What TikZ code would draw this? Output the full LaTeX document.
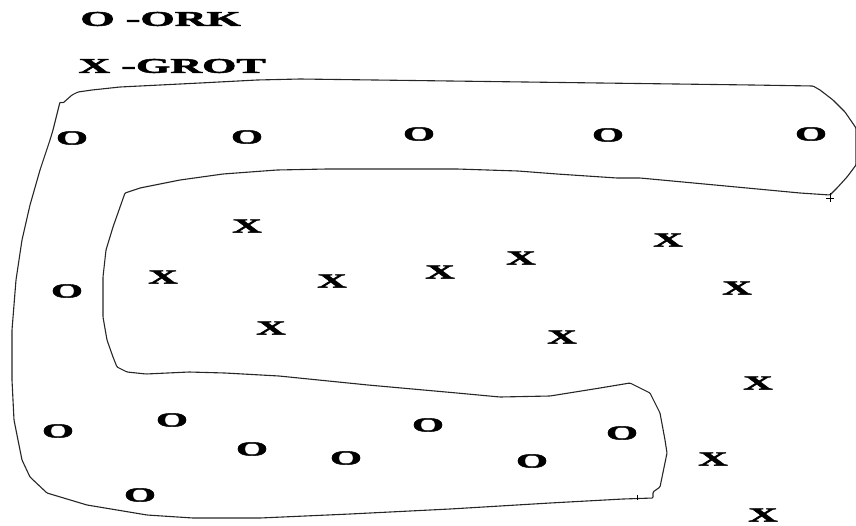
\documentclass[tikz,border=0pt]{standalone}
\usepackage{fontspec}
\setmainfont{Liberation Serif}
\newfontfamily\heavyfont[BoldFeatures={FakeBold=2}]{Liberation Serif}
\begin{document}
\begin{tikzpicture}[x=1pt,y=-1pt,
  letter/.style={font=\heavyfont\fontsize{20}{20}\selectfont\bfseries, inner sep=0pt, xscale=2.05},
  legend/.style={font=\heavyfont\fontsize{21}{21}\selectfont\bfseries, inner sep=0pt, anchor=west, xscale=2.1},
  outline/.style={line width=1.1pt, draw=black!85, line join=round, rounded corners=1pt}]
\useasboundingbox (0,0) rectangle (856,525);

% legend
\node[legend] (lo) at (80,19) {O -ORK};
\node[legend] (lx) at (78,66) {X -GROT};

% outline
\draw[outline] (53,130) -- (58,110) -- (60,102) -- (63,103) -- (72,95) -- (78,92) -- (92,90) -- (120,87)
  -- (200,83) -- (257,80) -- (300,79) -- (450,81) -- (600,83) -- (752,85) -- (813,86) -- (820,90)
  -- (833,100) -- (845,112) -- (856,128) -- (856,165) -- (847,177) -- (837,188) -- (830,195)
  -- (800,193) -- (747,188) -- (683,182) -- (640,178) -- (617,178) -- (557,174) -- (518,171)
  -- (457,169) -- (327,169) -- (277,170) -- (223,174) -- (180,180) -- (140,188) -- (125,193)
  -- (113,227) -- (106,250) -- (103,277) -- (103,317) -- (107,340) -- (113,357) -- (117,367)
  -- (127,372) -- (146,374) -- (189,372) -- (225,373) -- (279,376) -- (368,385) -- (457,393)
  -- (500,397) -- (550,396) -- (600,388) -- (630,383) -- (650,393) -- (660,413) -- (665,440)
  -- (667,453) -- (660,487) -- (653,492) -- (653,498) -- (623,499) -- (550,503) -- (450,509)
  -- (350,514) -- (260,518) -- (193,518) -- (147,515) -- (87,505) -- (47,493) -- (30,477)
  -- (22,460) -- (14,420) -- (12,380) -- (12,330) -- (16,280) -- (22,240) -- (30,205)
  -- (40,170) -- (50,140) -- cycle;
% small cross marks
\coordinate (c1) at (830,198);
\draw[line width=0.9pt] ([xshift=-4pt]c1) -- ([xshift=4pt]c1) ([yshift=-4pt]c1) -- ([yshift=5pt]c1);
\coordinate (c2) at (637,500);
\draw[line width=0.9pt] (c2) -- ([yshift=5pt]c2);

% orks
\node[letter] (o1) at (72,138) {O};
\node[letter] (o2) at (247,137) {O};
\node[letter] (o3) at (419,134) {O};
\node[letter] (o4) at (608,135) {O};
\node[letter] (o5) at (811,134) {O};
\node[letter] (o6) at (67,291) {O};
\node[letter] (o7) at (58,431) {O};
\node[letter] (o8) at (172,420) {O};
\node[letter] (o9) at (252,449) {O};
\node[letter] (o10) at (346,458) {O};
\node[letter] (o11) at (428,425) {O};
\node[letter] (o12) at (532,461) {O};
\node[letter] (o13) at (622,433) {O};
\node[letter] (o14) at (140,495) {O};

% grots
\node[letter] (x1) at (247,226) {X};
\node[letter] (x2) at (163,277) {X};
\node[letter] (x3) at (332,281) {X};
\node[letter] (x4) at (440,272) {X};
\node[letter] (x5) at (521,258) {X};
\node[letter] (x6) at (668,240) {X};
\node[letter] (x7) at (737,288) {X};
\node[letter] (x8) at (271,328) {X};
\node[letter] (x9) at (562,337) {X};
\node[letter] (x10) at (758,383) {X};
\node[letter] (x11) at (713,459) {X};
\node[letter] (x12) at (763,515) {X};
\end{tikzpicture}
\end{document}
